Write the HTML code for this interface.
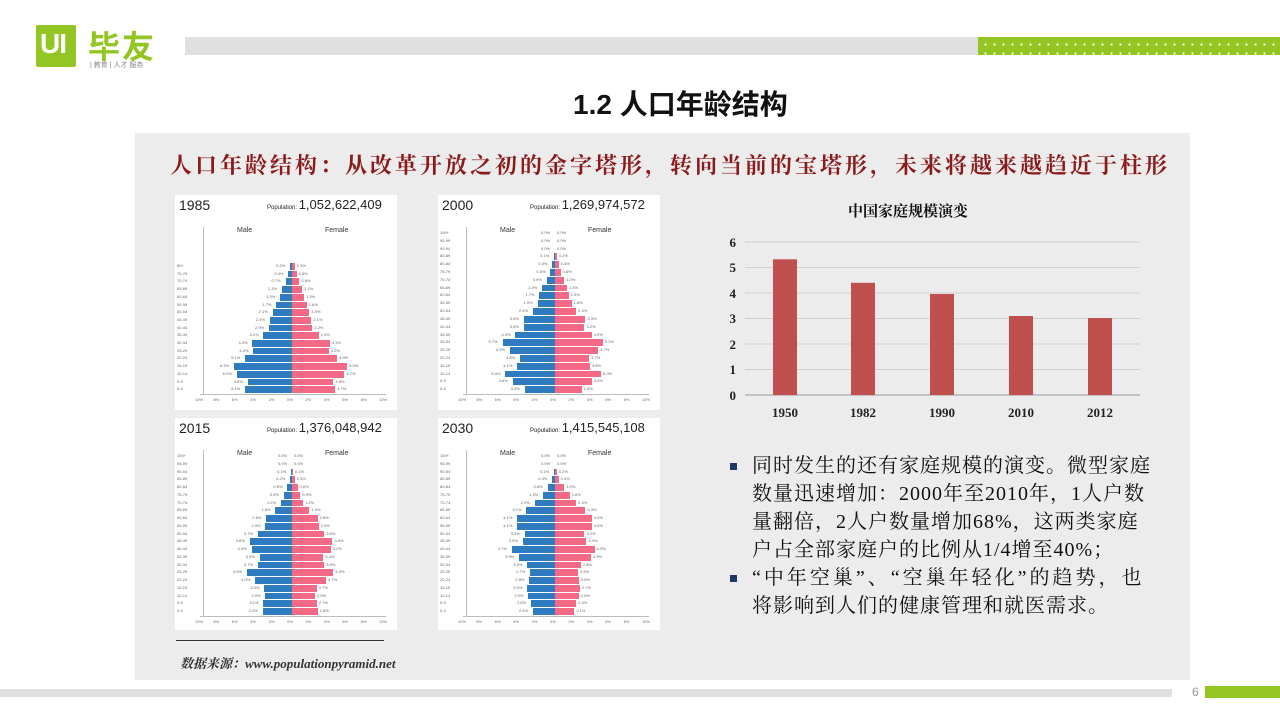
<!DOCTYPE html>
<html><head><meta charset="utf-8">
<style>
body{margin:0;width:1280px;height:720px;position:relative;background:#fff;overflow:hidden;font-family:"Liberation Sans","Noto Sans CJK SC",sans-serif}
.a{position:absolute}
.panel{position:absolute;background:#fff}
.t{font-size:14px;color:#222}
.pop{font-size:13px;color:#222}
.pop small{font-size:6px}
</style></head><body>
<!-- header -->
<div class="a" style="left:36px;top:25px;width:40px;height:42px;background:#93c523;border-radius:2px"></div>
<div class="a" style="left:40px;top:28px;color:#fff;font-weight:bold;font-size:28px;letter-spacing:-1px">UI</div>
<div class="a" style="left:88px;top:22px;color:#93c523;font-weight:bold;font-size:32px;letter-spacing:2px">毕友</div>
<div class="a" style="left:90px;top:60px;color:#888;font-size:7px">| 教育 | 人才 服务</div>
<div class="a" style="left:185px;top:37px;width:793px;height:18px;background:#e0e0e0"></div>
<div class="a" style="left:978px;top:37px;width:302px;height:18px;background:#93c523;background-image:radial-gradient(#fff 1px,transparent 1.2px);background-size:9px 9px;background-position:3px 3px"></div>
<div class="a" style="left:573px;top:83px;font-size:28px;font-weight:bold;color:#111;white-space:nowrap">1.2 人口年龄结构</div>
<!-- main panel -->
<div class="a" style="left:135px;top:133px;width:1055px;height:547px;background:#ececec"></div>
<div class="a" style="left:170px;top:149px;font-size:22px;font-weight:bold;color:#8b1a1a;font-family:'Noto Serif CJK SC',serif;letter-spacing:3px;white-space:nowrap">人口年龄结构：从改革开放之初的金字塔形，转向当前的宝塔形，未来将越来越趋近于柱形</div>
<div id="pyr"></div>
<div class="a" style="left:176px;top:640px;width:208px;height:1px;background:#333"></div>
<div class="a" style="left:180px;top:653px;font-size:13px;font-style:italic;font-weight:bold;color:#333;font-family:'Liberation Serif','Noto Serif CJK SC',serif">数据来源：www.populationpyramid.net</div>
<!-- bar chart -->
<svg class="a" style="left:700px;top:190px" width="460" height="240">
<text x="208" y="26" text-anchor="middle" font-size="15" font-weight="bold" font-family="Noto Serif CJK SC,serif" fill="#111">中国家庭规模演变</text>
<g stroke="#d0d0d0" stroke-width="1">
<line x1="45" x2="440" y1="52" y2="52"/><line x1="45" x2="440" y1="77.5" y2="77.5"/><line x1="45" x2="440" y1="103" y2="103"/><line x1="45" x2="440" y1="128.5" y2="128.5"/><line x1="45" x2="440" y1="154" y2="154"/><line x1="45" x2="440" y1="179.5" y2="179.5"/></g>
<line x1="45" x2="440" y1="205" y2="205" stroke="#999"/>
<g font-size="13" font-family="Liberation Serif,serif" fill="#222" text-anchor="end" font-weight="bold">
<text x="36" y="210">0</text><text x="36" y="184">1</text><text x="36" y="159">2</text><text x="36" y="133">3</text><text x="36" y="108">4</text><text x="36" y="82">5</text><text x="36" y="57">6</text></g>
<g fill="#c0504d">
<rect x="73" y="69.3" width="24" height="135.7"/><rect x="151" y="92.8" width="24" height="112.2"/><rect x="230" y="104" width="24" height="101"/><rect x="309" y="126" width="24" height="79"/><rect x="388" y="128" width="24" height="77"/></g>
<g font-size="13" font-family="Liberation Serif,serif" fill="#222" text-anchor="middle" font-weight="bold">
<text x="85" y="227">1950</text><text x="163" y="227">1982</text><text x="242" y="227">1990</text><text x="321" y="227">2010</text><text x="400" y="227">2012</text></g>
</svg>
<div class="a" style="left:730px;top:452px;width:440px;font-size:20px;line-height:28px;color:#111;font-family:'Liberation Serif','Noto Serif CJK SC',serif;white-space:nowrap;letter-spacing:1px">
<div style="position:relative;padding-left:22px"><span style="position:absolute;left:0;top:11px;width:7px;height:7px;background:#1f3864"></span>同时发生的还有家庭规模的演变。微型家庭<br>数量迅速增加：2000年至2010年，1人户数<br>量翻倍，2人户数量增加68%，这两类家庭<br>户占全部家庭户的比例从1/4增至40%；</div>
<div style="position:relative;padding-left:22px;letter-spacing:3px"><span style="position:absolute;left:0;top:11px;width:7px;height:7px;background:#1f3864"></span>“中年空巢”、“空巢年轻化”的趋势，也<br><span style="letter-spacing:1px">将影响到人们的健康管理和就医需求。</span></div>
</div>
<!-- footer -->
<div class="a" style="left:0;top:689px;width:1172px;height:8px;background:#e0e0e0"></div>
<div class="a" style="left:1192px;top:685px;font-size:12px;color:#999">6</div>
<div class="a" style="left:1205px;top:686px;width:75px;height:12px;background:#93c523"></div>
<script>
var P=[
{x:175,y:195,yr:"1985",pop:"1,052,622,409",top:263,
m:[5.1,4.8,6.0,6.3,5.1,4.2,4.3,3.1,2.5,2.4,2.1,1.7,1.3,1.1,0.7,0.4,0.2],
f:[4.7,4.5,5.7,6.0,4.9,4.0,4.1,2.9,2.2,2.1,1.9,1.6,1.3,1.1,0.8,0.5,0.3]},
{x:438,y:195,yr:"2000",pop:"1,269,974,572",top:230,
m:[3.3,4.6,5.4,4.1,3.8,4.9,5.7,4.3,3.4,3.4,2.4,1.9,1.7,1.4,0.9,0.5,0.3,0.1,0,0,0],
f:[2.9,4.0,5.0,3.8,3.7,4.7,5.2,4.0,3.2,3.3,2.3,1.8,1.5,1.3,1.0,0.6,0.4,0.2,0,0,0]},
{x:175,y:418,yr:"2015",pop:"1,376,048,942",top:453,
m:[3.2,3.1,2.9,3.0,4.0,4.9,3.7,3.5,4.4,4.6,3.7,2.9,2.8,1.8,1.2,0.9,0.5,0.2,0.1,0,0],
f:[2.8,2.7,2.5,2.7,3.7,4.5,3.5,3.4,4.2,4.4,3.5,2.9,2.8,1.9,1.2,0.9,0.6,0.3,0.1,0,0]},
{x:438,y:418,yr:"2030",pop:"1,415,545,108",top:453,
m:[2.4,2.6,2.9,3.0,2.8,2.7,3.0,3.9,4.7,3.5,3.3,4.1,4.1,3.1,2.2,1.3,0.8,0.3,0.1,0,0],
f:[2.1,2.3,2.6,2.7,2.6,2.5,2.8,3.9,4.3,3.4,3.2,4.0,4.0,3.3,2.3,1.6,1.0,0.4,0.2,0,0]}];
var labs17=["0-4","5-9","10-14","15-19","20-24","25-29","30-34","35-39","40-44","45-49","50-54","55-59","60-64","65-69","70-74","75-79","80+"];
var labs21=labs17.slice(0,16).concat(["80-84","85-89","90-94","95-99","100+"]);
var h="";
P.forEach(function(p){
 h+='<div class="panel" style="left:'+p.x+'px;top:'+p.y+'px;width:222px;height:'+(p.y>400?212:215)+'px"></div>';
 h+='<div class="a t" style="left:'+(p.x+4)+'px;top:'+(p.y+2)+'px">'+p.yr+'</div>';
 h+='<div class="a pop" style="left:'+(p.x+92)+'px;top:'+(p.y+2)+'px"><small>Population: </small>'+p.pop+'</div>';
 var cx=p.x+117,sc=9.2,bot=p.y+(p.y>400?206:207),n=p.m.length,rh=(bot-8-p.top)/n;
 h+='<div class="a" style="left:'+(p.x+62)+'px;top:'+(p.y+32)+'px;font-size:7px;color:#333">Male</div><div class="a" style="left:'+(p.x+150)+'px;top:'+(p.y+32)+'px;font-size:7px;color:#333">Female</div>';
 h+='<div class="a" style="left:'+(p.x+28)+'px;top:'+(p.y+32)+'px;width:1px;height:'+(bot-8-p.y-32)+'px;background:#bbb"></div>';
 h+='<div class="a" style="left:'+(p.x+25)+'px;top:'+(bot-8)+'px;width:186px;height:1px;background:#bbb"></div>';
 var labs=n==17?labs17:labs21;
 for(var i=0;i<n;i++){
  var y=bot-8-(i+1)*rh;
  var wm=p.m[i]*sc,wf=p.f[i]*sc;
  h+='<div class="a" style="left:'+(cx-wm)+'px;top:'+y+'px;width:'+wm+'px;height:'+(rh-1)+'px;background:#2e7bbf"></div>';
  h+='<div class="a" style="left:'+cx+'px;top:'+y+'px;width:'+wf+'px;height:'+(rh-1)+'px;background:#f46a86"></div>';
  h+='<div class="a" style="left:'+(p.x+2)+'px;top:'+y+'px;font-size:4px;color:#666">'+labs[i]+'</div>';
  h+='<div class="a" style="left:'+(cx-wm-14)+'px;top:'+y+'px;font-size:4px;color:#666">'+p.m[i].toFixed(1)+'%</div>';
  h+='<div class="a" style="left:'+(cx+wf+2)+'px;top:'+y+'px;font-size:4px;color:#666">'+p.f[i].toFixed(1)+'%</div>';
 }
 for(var k=-10;k<=10;k+=2){h+='<div class="a" style="left:'+(cx+k*sc-5)+'px;top:'+(bot-5)+'px;font-size:4px;color:#666">'+Math.abs(k)+'%</div>';}
});
document.getElementById("pyr").innerHTML=h;
</script>
</body></html>
